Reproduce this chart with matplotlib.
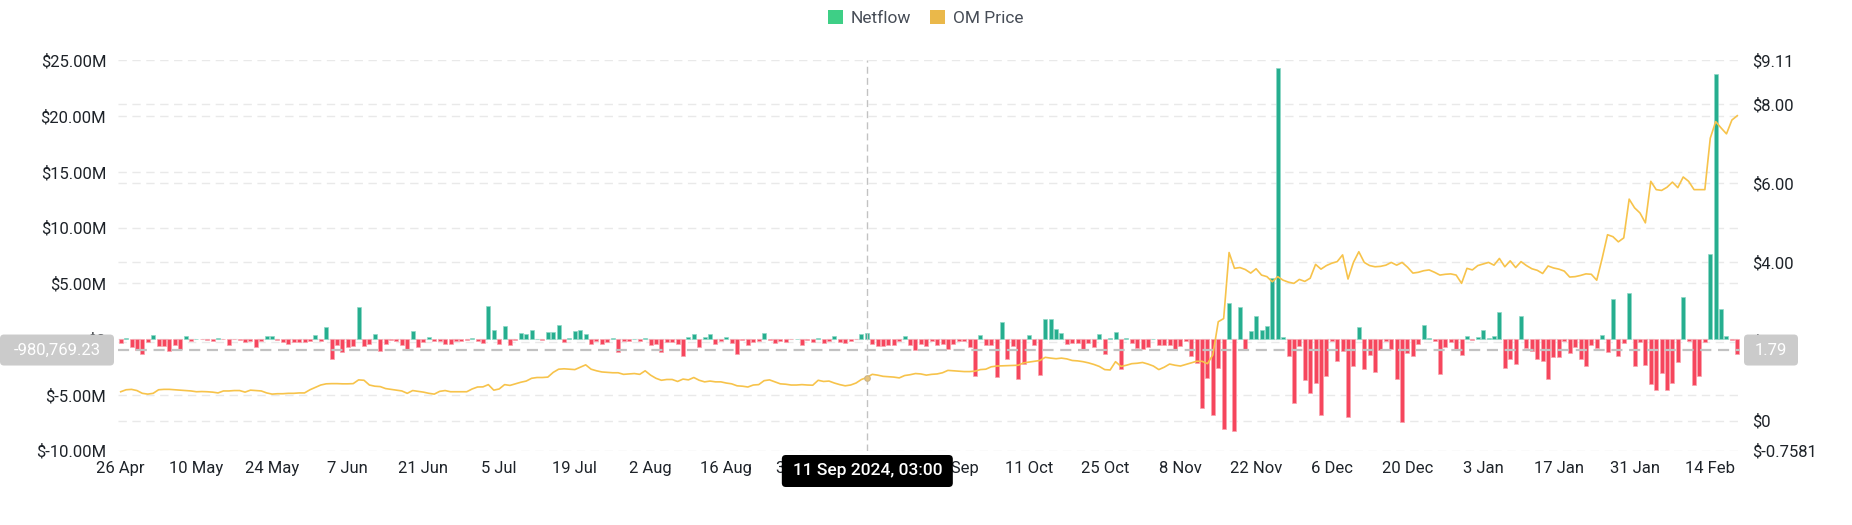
import matplotlib
matplotlib.use("Agg")
import matplotlib.pyplot as plt
import matplotlib.transforms as mtransforms
from matplotlib.patches import FancyBboxPatch, Patch
import numpy as np
import pandas as pd

plt.rcParams['font.family'] = ['Roboto', 'DejaVu Sans']

# ---------------- data ----------------
start_date = "2024-04-26"
n_days = 300

# daily exchange netflow, millions USD
netflow_m = [
    -0.36, 0.06, -0.7, -1.0, -1.3, -0.25, 0.4, -0.65, -0.65, -1.05,
    -0.55, -0.85, 0.25, -0.2, 0.03, -0.03, -0.05, -0.15, 0.06, -0.03,
    -0.55, -0.03, -0.05, -0.25, -0.15, -0.75, -0.15, 0.3, 0.28, -0.05,
    -0.25, -0.4, -0.22, -0.3, -0.22, -0.15, 0.4, -0.2, 1.05, -1.75,
    -0.55, -1.2, -0.75, -0.6, 2.9, -0.6, -0.45, 0.45, -1.05, -0.48,
    -0.1, -0.18, -0.5, -1.0, 0.7, -0.75, -0.3, 0.18, -0.15, -0.15,
    -0.4, -0.4, -0.15, -0.15, -0.05, 0.12, -0.2, -0.35, 3.0, 0.85,
    -0.45, 1.2, -0.5, -0.05, 0.55, 0.45, 0.78, 0.05, -0.08, 0.62,
    0.65, 1.28, -0.22, 0.12, 0.72, 0.85, 0.45, -0.45, -0.15, -0.4,
    -0.3, 0.1, -1.15, -0.15, -0.15, 0.05, -0.2, 0.1, -0.5, -0.48,
    -1.15, -0.25, -0.25, -0.45, -1.55, 0.15, 0.45, -0.75, 0.15, 0.45,
    -0.45, -0.2, 0.18, -0.35, -1.3, -0.1, -0.55, -0.3, -0.2, 0.55,
    -0.06, -0.35, -0.2, -0.25, -0.03, 0.04, -0.5, -0.05, -0.3, 0.08,
    -0.35, -0.15, 0.25, -0.3, -0.35, -0.15, -0.03, 0.45, 0.55, -0.45,
    -0.6, -0.6, -0.5, -0.5, -0.15, 0.3, -0.5, -1.0, -0.45, -0.6,
    -0.15, -0.5, -0.45, -0.9, -0.45, -0.2, -0.15, -0.7, -3.35, 0.36,
    -0.5, -0.5, -3.4, 1.5, -1.8, -0.65, -3.55, -2.2, 0.36, -0.5,
    -3.2, 1.8, 1.8, 0.9, 0.55, -0.45, -0.35, -0.35, -1.0, -0.35,
    -0.7, 0.45, -1.3, 0.12, 0.62, -2.7, 0.06, -0.35, -0.8, -0.9,
    -0.7, 0.04, -0.5, -0.5, -0.5, -1.0, -0.6, -0.15, -1.5, -2.1,
    -6.2, -3.5, -6.8, -2.6, -8.1, 3.2, -8.2, 2.85, -0.95, 0.75,
    2.1, 0.78, 1.15, 5.5, 24.3, 0.15, -1.55, -5.75, -0.6, -3.65,
    -4.85, -3.9, -6.8, -3.35, -0.2, -1.95, -1.05, -6.95, -2.4, 1.05,
    -2.65, -1.45, -2.95, -0.95, -0.2, -0.85, -3.6, -7.4, -1.25, -1.5,
    -0.45, 1.3, 0.1, -0.15, -3.15, -0.7, -0.3, -0.95, -1.4, 0.3,
    -0.08, 0.15, 0.85, 0.08, 0.3, 2.45, -2.55, -1.8, -2.25, 2.05,
    -0.8, -1.05, -1.8, -1.95, -3.6, -1.65, -1.65, -0.18, -1.25, -0.7,
    -1.8, -2.4, -0.55, -0.8, 0.4, -1.15, 3.6, -1.55, -0.35, 4.1,
    -2.4, -0.25, -2.35, -4.05, -4.55, -3.0, -4.55, -3.9, -2.05, 3.75,
    -0.15, -4.1, -3.35, -0.3, 7.6, 23.8, 2.7, 0.3, -0.05, -1.3,
]

# daily OM price, USD
om_price = [
    0.73, 0.78, 0.79, 0.76, 0.69, 0.67, 0.69, 0.78, 0.79, 0.79,
    0.78, 0.77, 0.76, 0.75, 0.73, 0.735, 0.73, 0.72, 0.70, 0.75,
    0.75, 0.76, 0.76, 0.72, 0.77, 0.76, 0.75, 0.70, 0.67, 0.68,
    0.68, 0.69, 0.69, 0.70, 0.70, 0.78, 0.84, 0.90, 0.93, 0.935,
    0.935, 0.93, 0.93, 0.935, 1.03, 1.02, 0.90, 0.87, 0.86, 0.81,
    0.79, 0.77, 0.75, 0.69, 0.76, 0.74, 0.72, 0.69, 0.67, 0.74,
    0.76, 0.73, 0.73, 0.73, 0.73, 0.80, 0.85, 0.853, 0.91, 0.77,
    0.80, 0.91, 0.89, 0.93, 0.97, 1.00, 1.07, 1.09, 1.09, 1.10,
    1.22, 1.30, 1.31, 1.30, 1.29, 1.35, 1.41, 1.30, 1.26, 1.23,
    1.22, 1.21, 1.21, 1.17, 1.18, 1.19, 1.17, 1.26, 1.15, 1.07,
    1.02, 1.04, 1.04, 0.99, 1.05, 1.03, 1.09, 1.02, 0.98, 1.00,
    0.98, 0.98, 0.95, 0.93, 0.88, 0.87, 0.85, 0.90, 0.91, 1.01,
    1.03, 0.98, 0.93, 0.92, 0.90, 0.90, 0.91, 0.90, 0.895, 1.02,
    0.99, 1.00, 0.95, 0.91, 0.88, 0.90, 0.95, 1.04, 1.09, 1.17,
    1.15, 1.12, 1.11, 1.10, 1.08, 1.14, 1.16, 1.19, 1.18, 1.15,
    1.17, 1.18, 1.21, 1.27, 1.26, 1.25, 1.24, 1.24, 1.25, 1.29,
    1.30, 1.36, 1.38, 1.385, 1.39, 1.395, 1.40, 1.46, 1.48, 1.50,
    1.52, 1.60, 1.58, 1.565, 1.58, 1.56, 1.52, 1.51, 1.49, 1.46,
    1.42, 1.37, 1.29, 1.28, 1.49, 1.37, 1.40, 1.44, 1.45, 1.47,
    1.43, 1.38, 1.29, 1.35, 1.43, 1.40, 1.38, 1.42, 1.46, 1.50,
    1.50, 1.44, 1.66, 2.50, 2.58, 4.25, 3.85, 3.87, 3.82, 3.73,
    3.84, 3.68, 3.64, 3.51, 3.64, 3.55, 3.50, 3.47, 3.57, 3.52,
    3.60, 3.95, 3.83, 3.92, 3.98, 4.02, 4.19, 3.58, 4.00, 4.27,
    4.00, 3.92, 3.89, 3.90, 3.93, 4.00, 3.93, 4.00, 3.88, 3.73,
    3.75, 3.79, 3.81, 3.75, 3.68, 3.70, 3.71, 3.68, 3.47, 3.85,
    3.81, 3.92, 3.96, 4.00, 3.93, 4.10, 3.89, 4.04, 3.87, 4.02,
    3.92, 3.84, 3.80, 3.72, 3.91, 3.86, 3.83, 3.78, 3.63, 3.64,
    3.67, 3.71, 3.70, 3.55, 4.10, 4.70, 4.65, 4.52, 4.62, 5.60,
    5.38, 5.25, 5.00, 6.05, 5.84, 5.82, 5.90, 6.03, 5.89, 6.16,
    6.05, 5.84, 5.84, 5.84, 7.14, 7.56, 7.40, 7.25, 7.60, 7.71,
]

left_ticks = [25, 20, 15, 10, 5, 0, -5, -10]
right_ticks = [9.11, 8, 6, 4, 2, 0, -0.7581]
right_tick_labels = ["$9.11", "$8.00", "$6.00", "$4.00", "$2.00", "$0", "$-0.7581"]
hover_index = 138
hover_label = "11 Sep 2024, 03:00"
cursor_left_value = -0.98076923
cursor_left_text = "-980,769.23"
cursor_right_text = "1.79"

# ---------------- style ----------------
GREEN = "#26ae8f"
GREEN_EDGE = "#8fd8c6"
RED = "#f6465d"
RED_EDGE = "#f9a3ae"
GOLD = "#f7c34b"
GRID = "#e9e9e9"
TEXT = "#1e2329"
CROSS = "#c2c2c2"
FS = 12

W, H = 1852, 525
fig = plt.figure(figsize=(W / 100, H / 100), dpi=100)
L, R, T, B = 118, 1740, 60.3, 450.6
ax = fig.add_axes([L / W, 1 - B / H, (R - L) / W, (B - T) / H])
ax2 = ax.twinx()

dates = pd.date_range(start_date, periods=n_days, freq="D")
x = np.arange(n_days)
nf = np.array(netflow_m)
pr = np.array(om_price)

colors = [GREEN if v >= 0 else RED for v in nf]
edges = [GREEN_EDGE if v >= 0 else RED_EDGE for v in nf]
ax.bar(x, nf, width=0.74, color=colors, edgecolor=edges, linewidth=0.5, zorder=3)

lmin, lmax = -10, 25
pmin, pmax = -0.7581, 9.11
ax.set_ylim(lmin, lmax)
ax2.set_ylim(pmin, pmax)
ax.set_xlim(-0.5, n_days - 0.5)

# grid lines (left + right ticks), drawn on the bar axis underneath
for v in left_ticks:
    ax.axhline(v, color=GRID, lw=1.0, ls=(0, (6, 4)), zorder=0)
for p in right_ticks[1:-1]:
    yv = lmin + (p - pmin) / (pmax - pmin) * (lmax - lmin)
    ax.axhline(yv, color=GRID, lw=1.0, ls=(0, (6, 4)), zorder=0)

# crosshair
ax.axvline(hover_index, color=CROSS, lw=1.0, ls=(0, (5, 3)), zorder=4)
ax.axhline(cursor_left_value, color=CROSS, lw=1.6, ls=(0, (5, 3)), zorder=4)

ax2.plot(x, pr, color=GOLD, lw=1.2, zorder=5, solid_joinstyle="round")
ax2.plot([hover_index], [pr[hover_index]], "o", ms=4, mfc="#e9c47a",
         mec="#c9b48a", mew=0.8, zorder=6)

ax.set_yticks(left_ticks)
ax.set_yticklabels([("$%.2fM" % v) if v != 0 else "$0" for v in left_ticks])
ax2.set_yticks(right_ticks)
ax2.set_yticklabels(right_tick_labels)

tick_idx = list(range(0, n_days, 14))
ax.set_xticks(tick_idx)
ax.set_xticklabels([f"{dates[i].day} {dates[i].strftime('%b')}" for i in tick_idx])

for a in (ax, ax2):
    for s in a.spines.values():
        s.set_visible(False)
ax.tick_params(axis="y", length=0, pad=8.5, labelsize=FS, labelcolor=TEXT)
ax2.tick_params(axis="y", length=0, pad=8.5, labelsize=FS, labelcolor=TEXT)
ax.tick_params(axis="x", length=0, pad=7.5, labelsize=FS, labelcolor=TEXT)

# legend
handles = [Patch(facecolor="#3ecf86", edgecolor="none", label="Netflow"),
           Patch(facecolor="#eab84a", edgecolor="none", label="OM Price")]
fig.legend(handles=handles, loc="center", bbox_to_anchor=(0.5, 1 - 18 / H),
           ncol=2, frameon=False, fontsize=12.5, handlelength=0.85,
           handleheight=0.85, handletextpad=0.45, columnspacing=1.1,
           labelcolor="#474d57")

# tags (display pixel coordinates)
ident = mtransforms.IdentityTransform()
ycur = ax.transData.transform((0, cursor_left_value))[1]


def tag(x0, w, h, text, face, txtcolor, weight="normal", fs=12, yc=None):
    y0 = yc - h / 2
    box = FancyBboxPatch((x0, y0), w, h, boxstyle="round,pad=0,rounding_size=4",
                         transform=ident, facecolor=face, edgecolor="none",
                         zorder=20)
    fig.add_artist(box)
    fig.text((x0 + w / 2) / W, yc / H, text, ha="center", va="center",
             color=txtcolor, fontsize=fs, fontweight=weight, zorder=21)


tag(0, 114, 31, cursor_left_text, "#cbcbcb", "white", fs=12, yc=ycur)
tag(1744, 54, 31, cursor_right_text, "#cbcbcb", "white", fs=12, yc=ycur)

xhover = ax.transData.transform((hover_index, 0))[0]
tag(xhover - 85, 171, 32, hover_label, "black", "white", weight="medium",
    fs=12.5, yc=H - 471)

fig.savefig("out.png", dpi=100)
